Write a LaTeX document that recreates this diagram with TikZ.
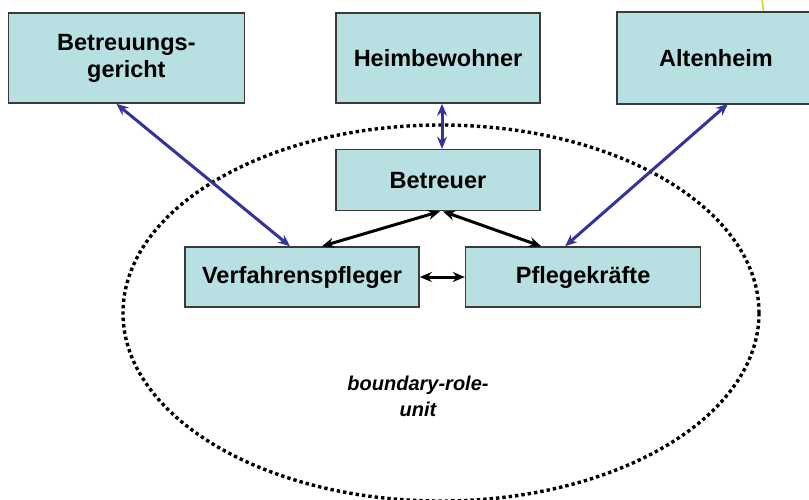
\documentclass[tikz,border=0pt]{standalone}
\usepackage{fontspec}
\setmainfont{Liberation Sans}
\usetikzlibrary{positioning,arrows.meta}

\definecolor{boxfill}{HTML}{B8DFE1}
\definecolor{boxline}{HTML}{3A3A3A}
\definecolor{linkblue}{HTML}{33339A}
\definecolor{leafgreen}{HTML}{C4D62A}

\begin{document}
\begin{tikzpicture}[
    x=1pt, y=-1pt,
    box/.style={rectangle, draw=boxline, line width=1.6pt, fill=boxfill, align=center,
                font=\bfseries\fontsize{23.5}{27}\selectfont, inner sep=0pt},
    outerbox/.style={box, minimum height=90pt},
    innerbox/.style={box, minimum height=60pt},
    arrow/.style={{Stealth[length=12pt,width=10pt]}-{Stealth[length=12pt,width=10pt]}, line width=3pt},
    bluearrow/.style={arrow, linkblue},
    unitlabel/.style={font=\bfseries\itshape\fontsize{20}{26}\selectfont, align=center}
]
\useasboundingbox (0,0) rectangle (809,499);

% Boundary
\draw[line width=3.4pt, dash pattern=on 3.4pt off 3pt] (441,313) ellipse [x radius=318pt, y radius=188pt];
\node[unitlabel] (unit) at (418,396) {boundary-role-\\unit};

% Row 1: outer parties
\node[outerbox, minimum width=204pt] (heim) at (438,58) {Heimbewohner};
\node[outerbox, minimum width=236pt, left=90pt of heim] (gericht) {Betreuungs-\\gericht};
\node[outerbox, draw=none, minimum width=240pt, right=76pt of heim] (alten) {};
\draw[boxline, line width=1.6pt] (alten.north east) -- (alten.north west) -- (alten.south west) -- (alten.south east);
\node[font=\bfseries\fontsize{23.5}{27}\selectfont] (altentext) at (716,58) {Altenheim};

% Row 2 and 3: inside the unit
\node[innerbox, minimum width=204pt, minimum height=61pt, below=45pt of heim] (betreuer) {Betreuer};
\node[innerbox, minimum width=234pt] (verf) at (302,277) {Verfahrenspfleger};
\node[innerbox, minimum width=235pt, right=45pt of verf] (pflege) {Pflegekräfte};

% Blue arrows
\draw[bluearrow] ([xshift=-10pt]gericht.south) -- ([xshift=-12pt]verf.north);
\draw[bluearrow] ([xshift=4pt]heim.south) -- ([xshift=4pt]betreuer.north);
\draw[bluearrow] ([xshift=12pt]altentext.south |- alten.south) -- ([xshift=-18pt]pflege.north);

% Black arrows
\draw[arrow] ([xshift=2pt]betreuer.south) -- ([xshift=20pt]verf.north);
\draw[arrow] ([xshift=5pt]betreuer.south) -- ([xshift=-42pt]pflege.north);
\draw[arrow] (verf) -- (pflege);

% stray line top right
\draw[leafgreen, line width=1.5pt] (762,0) -- (763.5,11);

\end{tikzpicture}
\end{document}
